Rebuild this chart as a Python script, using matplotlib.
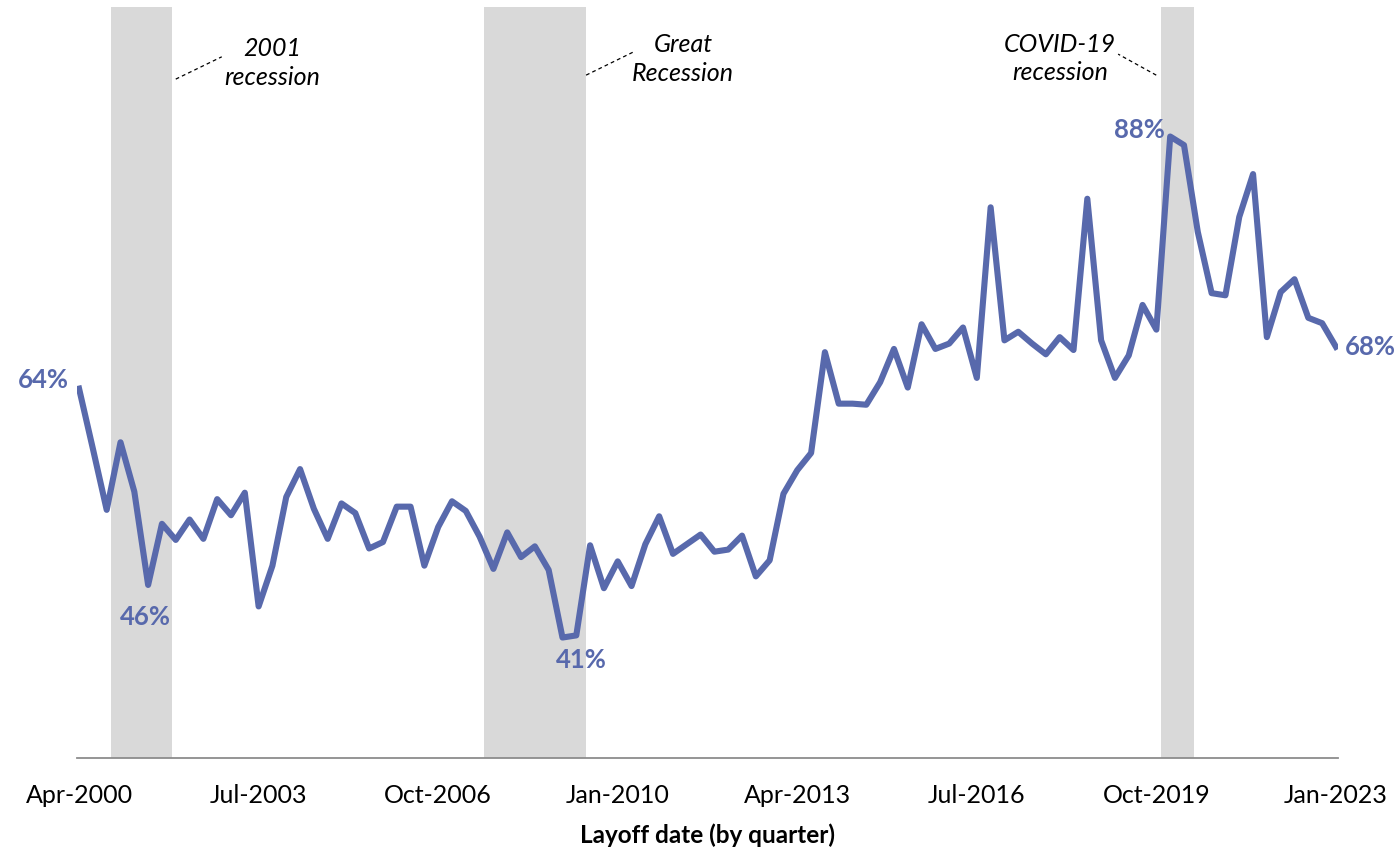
import numpy as np
import matplotlib
matplotlib.use('Agg')
import matplotlib.pyplot as plt

# ── colours ───────────────────────────────────────────────────────────
LINE = '#5869AC'
BAND = '#D9D9D9'
AXIS = '#8C8C8C'

plt.rcParams['font.family'] = ['Lato', 'DejaVu Sans']

# ── data: share (%) by quarter, Apr-2000 .. Jan-2023 ──────────────────
values = [
    64.4, 58.8, 53.1, 59.4, 54.8, 46.1, 51.8, 50.3, 52.2, 50.4,
    54.1, 52.6, 54.7, 44.1, 47.9, 54.3, 56.9, 53.2, 50.4, 53.7,
    52.8, 49.5, 50.1, 53.4, 53.4, 47.9, 51.5, 53.9, 53.0, 50.6,
    47.6, 51.0, 48.7, 49.7, 47.5, 41.2, 41.4, 49.8, 45.8, 48.3,
    46.0, 49.9, 52.5, 49.0, 49.9, 50.8, 49.2, 49.4, 50.7, 46.9,
    48.4, 54.6, 56.8, 58.4, 67.8, 63.0, 63.0, 62.9, 65.0, 68.1,
    64.5, 70.4, 68.1, 68.6, 70.1, 65.4, 81.3, 68.9, 69.7, 68.6,
    67.6, 69.2, 68.0, 82.1, 68.9, 65.4, 67.5, 72.2, 69.9, 87.9,
    87.1, 79.0, 73.3, 73.1, 80.4, 84.4, 69.2, 73.4, 74.6, 71.0,
    70.5, 68.3,
]
tick_idx = [0, 13, 26, 39, 52, 65, 78, 91]
tick_labels = ['Apr-2000', 'Jul-2003', 'Oct-2006', 'Jan-2010',
               'Apr-2013', 'Jul-2016', 'Oct-2019', 'Jan-2023']

# recessions: first and last quarter index
recessions = [(3, 6), (30, 36), (79, 80)]
rec_names = ['2001\nrecession', 'Great\nRecession', 'COVID-19\nrecession']

# labelled points: index, text
point_labels = [(0, '64%'), (5, '46%'), (36, '41%'), (79, '88%'), (91, '68%')]

x = np.arange(len(values))

fig = plt.figure(figsize=(13.99, 8.5), dpi=100)
ax = fig.add_axes([77 / 1399, 1 - 757.7 / 850, 1261 / 1399, 751 / 850])

for a, b in recessions:
    ax.axvspan(a - 0.7, b + 0.7, color=BAND, lw=0, zorder=0)

ax.plot(x, values, color=LINE, lw=4.4, solid_joinstyle='round', zorder=3)

ax.set_xlim(-0.15, 91.15)
ax.set_ylim(30, 100)
ax.set_yticks([])
ax.set_xticks(tick_idx)
ax.set_xticklabels(tick_labels, fontsize=18)
ax.tick_params(axis='x', length=0, pad=19)
for s in ['top', 'right', 'left']:
    ax.spines[s].set_visible(False)
ax.spines['bottom'].set_color(AXIS)
ax.spines['bottom'].set_linewidth(1.3)
ax.set_xlabel('Layoff date (by quarter)', fontsize=17.5, fontweight='bold',
              labelpad=12)

# recession call-outs
callouts = [
    ((7.0, 93.25), (10.33, 95.33), (13.98, 94.74)),
    ((36.71, 93.62), (40.12, 95.77), (43.74, 95.1)),
    ((77.99, 93.62), (75.23, 95.58), (71.03, 95.16)),
]
for (p0, p1, t), name in zip(callouts, rec_names):
    ax.plot([p0[0], p1[0]], [p0[1], p1[1]], color='black', lw=0.9,
            ls=(0, (3, 2.5)), zorder=4)
    ax.text(t[0], t[1], name, ha='center', va='center', fontsize=18,
            style='italic', linespacing=1.3, zorder=4)

# value labels
offsets = {0: (-10, 9, 'right'), 5: (-3, -32, 'center'),
           36: (5, -25, 'center'), 79: (-5, 7, 'right'), 91: (9, 0, 'left')}
for i, txt in point_labels:
    dx, dy, ha = offsets[i]
    ax.annotate(txt, (x[i], values[i]), xytext=(dx, dy),
                textcoords='offset pixels', ha=ha, va='center',
                fontsize=18.5, fontweight='bold', color=LINE, zorder=5)

fig.savefig('out.png', dpi=100)
